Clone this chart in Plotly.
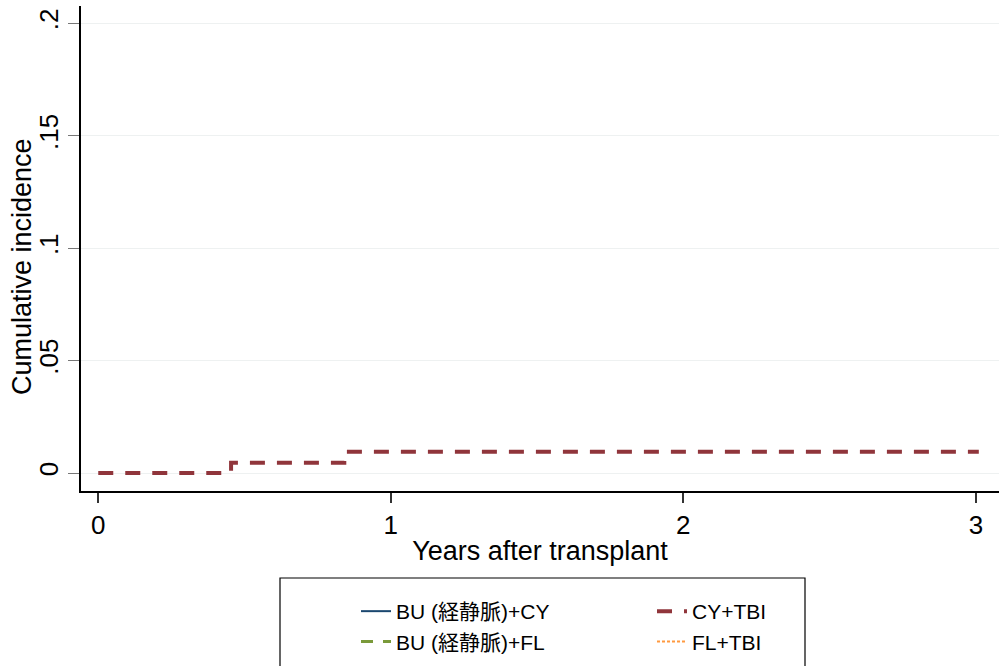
import plotly.graph_objects as go

# ---- data ----
cy_tbi_years = [0.0, 0.454, 0.454, 0.841, 0.841, 3.01]
cy_tbi_ci = [0.0, 0.0, 0.0046, 0.0046, 0.0095, 0.0095]
bu_cy_years, bu_cy_ci = [None], [None]
bu_fl_years, bu_fl_ci = [None], [None]
fl_tbi_years, fl_tbi_ci = [None], [None]

x_ticks = [0, 1, 2, 3]
x_tick_labels = ["0", "1", "2", "3"]
y_ticks = [0, 0.05, 0.1, 0.15, 0.2]
y_tick_labels = ["0", ".05", ".1", ".15", ".2"]

FONT = "Liberation Sans, Arial, Noto Sans CJK JP, sans-serif"

fig = go.Figure()
fig.add_trace(go.Scatter(x=bu_cy_years, y=bu_cy_ci, mode="lines", name="BU (経静脈)+CY",
                         line=dict(color="#1a476f", width=2, dash="solid"),
                         legend="legend", legendgroup="a", showlegend=True))
fig.add_trace(go.Scatter(x=bu_fl_years, y=bu_fl_ci, mode="lines", name="BU (経静脈)+FL",
                         line=dict(color="#7a9a3a", width=3, dash="12px,10px"),
                         legend="legend", legendgroup="b", showlegend=True))
fig.add_trace(go.Scatter(x=cy_tbi_years, y=cy_tbi_ci, mode="lines", name="CY+TBI",
                         line=dict(color="#90353b", width=4, dash="15px,12px"),
                         legend="legend2", legendgroup="c", showlegend=True))
fig.add_trace(go.Scatter(x=fl_tbi_years, y=fl_tbi_ci, mode="lines", name="FL+TBI",
                         line=dict(color="#ff9a40", width=2, dash="3px,2px"),
                         legend="legend2", legendgroup="d", showlegend=True))

legend_common = dict(orientation="v", bgcolor="rgba(0,0,0,0)", borderwidth=0,
                     font=dict(family=FONT, size=21, color="#000"),
                     xref="container", yref="container", xanchor="left", yanchor="top",
                     tracegroupgap=0, itemclick=False, itemdoubleclick=False)

fig.update_layout(
    width=999, height=666,
    margin=dict(l=81, r=0, t=6, b=175, autoexpand=False),
    paper_bgcolor="white", plot_bgcolor="white",
    font=dict(family=FONT, size=24, color="#000"),
    showlegend=True,
    legend=dict(legend_common, x=356 / 999, y=1 - 591 / 666),
    legend2=dict(legend_common, x=652 / 999, y=1 - 591 / 666),
    xaxis=dict(range=[-0.059, 3.079], tickmode="array", tickvals=x_ticks, ticktext=x_tick_labels,
               showgrid=False, zeroline=False, showline=True, linecolor="#000", linewidth=1.5,
               ticks="outside", ticklen=10, tickcolor="#333", tickwidth=1.5,
               tickfont=dict(size=26), automargin=False,
               title=dict(text="Years after transplant", font=dict(size=27), standoff=2)),
    yaxis=dict(range=[-0.008, 0.2077], tickmode="array", tickvals=y_ticks, ticktext=y_tick_labels,
               showgrid=True, gridcolor="#eef1f1", gridwidth=1, zeroline=False,
               showline=True, linecolor="#000", linewidth=1.5,
               ticks="outside", ticklen=11, tickcolor="#777", tickwidth=1.2,
               tickangle=-90, tickfont=dict(size=26), automargin=False),
    annotations=[dict(text="Cumulative incidence", textangle=-90, showarrow=False,
                      xref="paper", yref="paper", x=(22 - 81) / 918, y=(491 - 267) / 485,
                      xanchor="center", yanchor="middle", font=dict(size=27))],
    shapes=[dict(type="rect", xref="paper", yref="paper",
                 x0=(280 - 81) / 918, x1=(805 - 81) / 918,
                 y0=(491 - 680) / 485, y1=(491 - 578) / 485,
                 line=dict(color="#000", width=1.2), fillcolor="rgba(0,0,0,0)", layer="above")],
)

fig.write_html("out.html", config={"displayModeBar": False},
               post_script="document.body.style.margin='0px';document.body.style.overflow='hidden';")
